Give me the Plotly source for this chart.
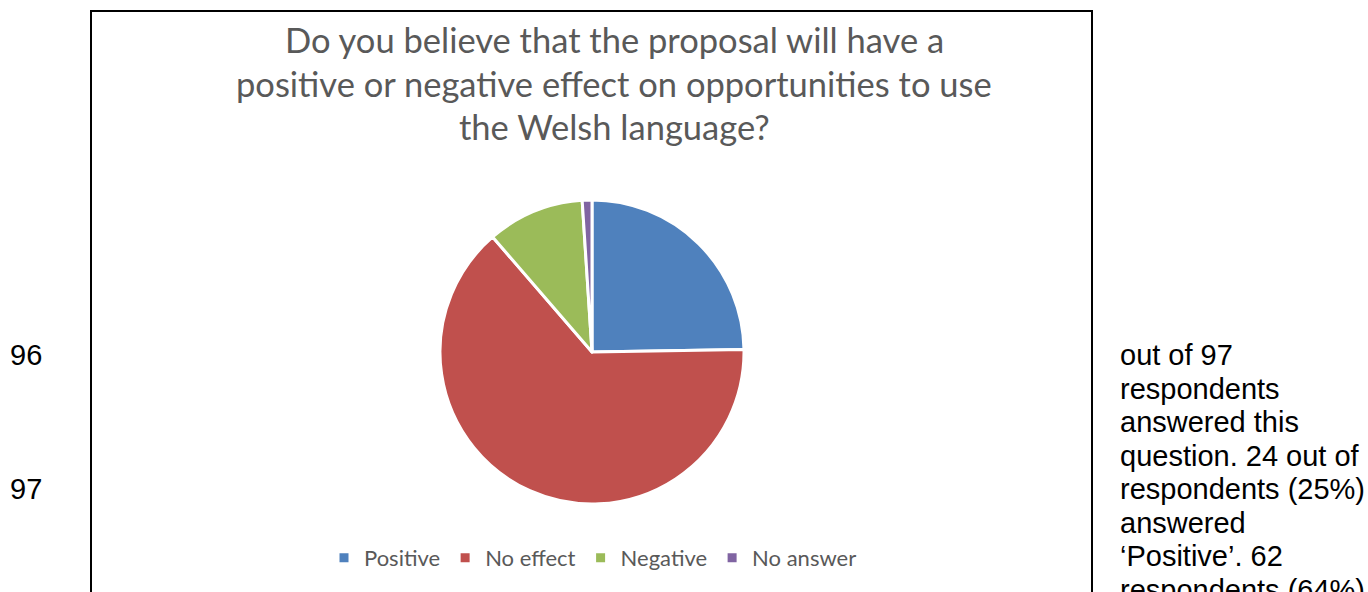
import plotly.graph_objects as go

# Data
categories = ["Positive", "No effect", "Negative", "No answer"]
values = [24, 62, 10, 1]
colors = ["#4F81BD", "#C0504D", "#9BBB59", "#8064A2"]

title_lines = [
    "Do you believe that the proposal will have a",
    "positive or negative effect on opportunities to use",
    "the Welsh language?",
]
side_lines = [
    "out of 97",
    "respondents",
    "answered this",
    "question. 24 out of",
    "respondents (25%)",
    "answered",
    "\u2018Positive\u2019. 62",
    "respondents (64%)",
]
line_numbers = ["96", "97"]

W, H = 1368, 592

def py(px):
    return 1 - px / H

def pxx(px):
    return px / W

cx, cy, r = 592, 352, 152

fig = go.Figure()
fig.add_trace(go.Pie(
    labels=categories,
    values=values,
    sort=False,
    direction="clockwise",
    rotation=0,
    textinfo="none",
    hoverinfo="label+value+percent",
    marker=dict(colors=colors, line=dict(color="white", width=3)),
    domain=dict(x=[pxx(cx - r), pxx(cx + r)], y=[py(cy + r), py(cy - r)]),
))

annotations = []
title_baselines = [51, 94, 137]
for t, b in zip(title_lines, title_baselines):
    annotations.append(dict(
        text=t, x=pxx(614), y=py(b - 11), xref="paper", yref="paper",
        xanchor="center", yanchor="middle", showarrow=False,
        font=dict(family="Lato", size=34.5, color="#595959"),
    ))

line_h = 33.5
for i, t in enumerate(side_lines):
    b = 365 + i * line_h
    annotations.append(dict(
        text=t, x=pxx(1118), y=py(b - 10), xref="paper", yref="paper",
        xanchor="left", yanchor="middle", showarrow=False,
        font=dict(family="Liberation Sans", size=29, color="#000000"),
    ))

for t, b in zip(line_numbers, [365, 365 + 4 * line_h]):
    annotations.append(dict(
        text=t, x=pxx(8), y=py(b - 10), xref="paper", yref="paper",
        xanchor="left", yanchor="middle", showarrow=False,
        font=dict(family="Liberation Sans", size=29, color="#000000"),
    ))

fig.update_layout(
    width=W, height=H,
    margin=dict(l=0, r=0, t=0, b=0),
    paper_bgcolor="white",
    plot_bgcolor="white",
    showlegend=True,
    legend=dict(
        orientation="h", x=pxx(593), xanchor="center", y=py(558), yanchor="middle",
        font=dict(family="Lato", size=22, color="#595959"),
        itemwidth=30, tracegroupgap=0,
    ),
    annotations=annotations,
    shapes=[dict(
        type="rect", xref="paper", yref="paper",
        x0=pxx(91), x1=pxx(1092), y0=-0.2, y1=py(11),
        line=dict(color="black", width=2), fillcolor="rgba(0,0,0,0)", layer="below",
    )],
)

fig.write_html(
    "out.html",
    config={"displayModeBar": False},
    post_script="document.body.style.margin='0';document.body.style.overflow='hidden';",
)
